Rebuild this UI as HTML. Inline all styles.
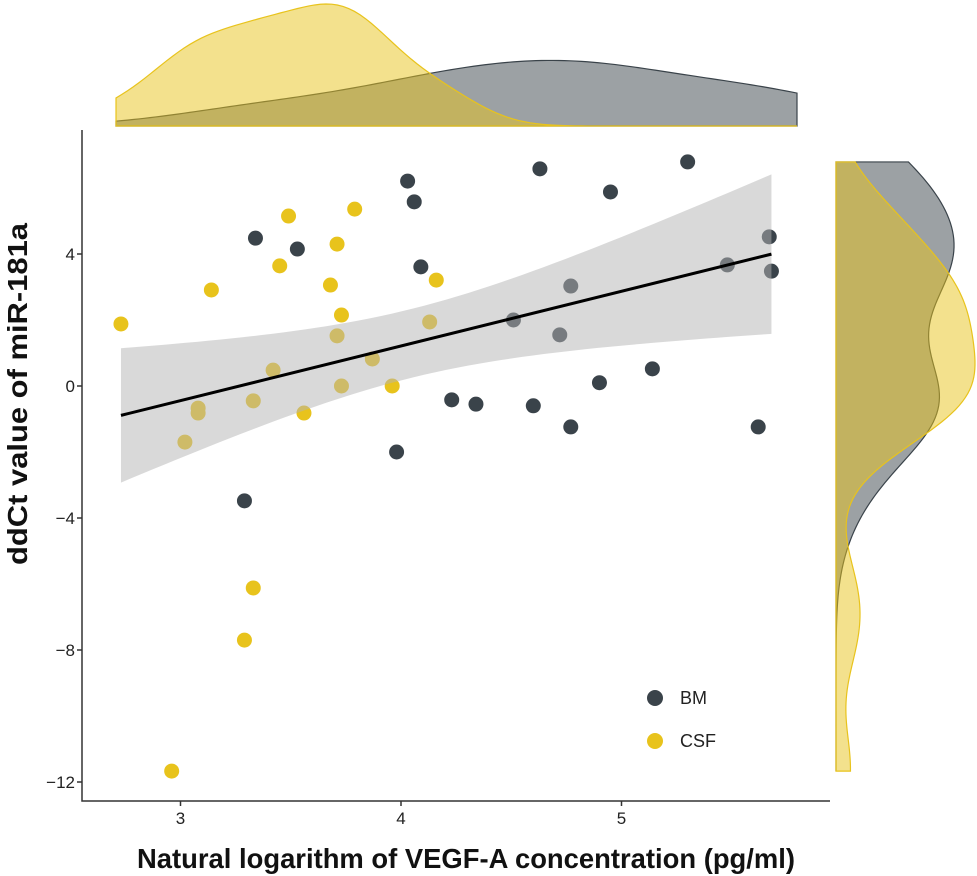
<!DOCTYPE html>
<html><head><meta charset="utf-8"><style>
body{margin:0;background:#fff}
svg{display:block;font-family:"Liberation Sans",Arial,sans-serif}
</style></head><body>
<svg id="c" width="977" height="876" viewBox="0 0 977 876"></svg>
<script>
const bmX=[3.29,3.34,3.53,3.98,4.03,4.06,4.09,4.23,4.34,4.51,4.63,4.72,4.60,4.77,4.77,5.14,4.90,4.95,5.30,5.48,5.67,5.68,5.62];
const bmY=[-3.48,4.48,4.15,-2.0,6.21,5.58,3.61,-0.42,-0.55,2.0,6.58,1.55,-0.6,-1.24,3.03,0.52,0.1,5.88,6.79,3.67,4.52,3.48,-1.24];
const csfX=[2.73,3.14,3.49,3.45,3.79,3.71,3.68,3.73,3.71,3.87,3.73,3.96,4.16,4.13,3.42,3.33,3.08,3.08,3.56,3.02,3.33,3.29,2.96];
const csfY=[1.88,2.91,5.15,3.64,5.36,4.30,3.06,2.15,1.52,0.82,0.0,0.0,3.21,1.94,0.48,-0.45,-0.82,-0.67,-0.82,-1.7,-6.12,-7.7,-11.67];
const xTicks=[3,4,5];
const yTicks=[4,0,-4,-8,-12];
const yTickLabels=["4","0","\u22124","\u22128","\u221212"];
const groups=["BM","CSF"];

const NS="http://www.w3.org/2000/svg";
const svg=document.getElementById('c');
function mk(t,a,p){const e=document.createElementNS(NS,t);for(const k in a)e.setAttribute(k,a[k]);(p||svg).appendChild(e);return e;}
const sx=v=>180.5+(v-3)*220.5;
const sy=v=>386-v*33;
const cBM="#3a434a",cCSF="#e8c31c";

const gp=mk('g',{});


bmX.forEach((x,i)=>{const c=mk('circle',{cx:sx(x),cy:sy(bmY[i]),r:7.5,fill:cBM},gp);

});
csfX.forEach((x,i)=>{const c=mk('circle',{cx:sx(x),cy:sy(csfY[i]),r:7.5,fill:cCSF},gp);

});

const X=bmX.concat(csfX),Y=bmY.concat(csfY),n=X.length;
const mx=X.reduce((a,b)=>a+b)/n,my=Y.reduce((a,b)=>a+b)/n;
let sxx=0,sxy=0;X.forEach((x,i)=>{sxx+=(x-mx)**2;sxy+=(x-mx)*(Y[i]-my);});
const b1=sxy/sxx,b0=my-b1*mx;
let sse=0;X.forEach((x,i)=>{sse+=(Y[i]-b0-b1*x)**2;});
const s=Math.sqrt(sse/(n-2)),tq=2.018;
const xmin=Math.min(...X),xmax=Math.max(...X);
let up=[],lo=[];
for(let k=0;k<=60;k++){const x=xmin+(xmax-xmin)*k/60,f=b0+b1*x,se=s*Math.sqrt(1/n+(x-mx)**2/sxx);
up.push(sx(x)+','+sy(f+tq*se));lo.unshift(sx(x)+','+sy(f-tq*se));}
const rib=mk('polygon',{points:up.concat(lo).join(' '),fill:'#b3b3b3','fill-opacity':0.5});


const ln=mk('line',{x1:sx(xmin),y1:sy(b0+b1*xmin),x2:sx(xmax),y2:sy(b0+b1*xmax),stroke:'#000','stroke-width':3});



const ax=mk('path',{d:'M82,130V801H830',fill:'none',stroke:'#333','stroke-width':1.5});


xTicks.forEach(t=>{mk('line',{x1:sx(t),x2:sx(t),y1:801,y2:806,stroke:'#333','stroke-width':1.5});
const l=mk('text',{x:sx(t),y:824,'text-anchor':'middle','font-size':17,fill:'#222'});l.textContent=t;

});
yTicks.forEach((t,i)=>{mk('line',{x1:77,x2:82,y1:sy(t),y2:sy(t),stroke:'#333','stroke-width':1.5});
const l=mk('text',{x:75,y:sy(t)+6,'text-anchor':'end','font-size':17,fill:'#222'});l.textContent=yTickLabels[i];

});
const xt=mk('text',{x:137,y:868,'font-size':28,'font-weight':'bold',fill:'#111',textLength:658,lengthAdjust:'spacingAndGlyphs'});
xt.textContent='Natural logarithm of VEGF-A concentration (pg/ml)';


const yt=mk('text',{x:0,y:0,transform:'translate(27,565) rotate(-90)','font-size':28,'font-weight':'bold',fill:'#111',textLength:342,lengthAdjust:'spacingAndGlyphs'});
yt.textContent='ddCt value of miR-181a';



[[cBM,698],[cCSF,741]].forEach((d,i)=>{
const g=mk('g',{});


mk('circle',{cx:655,cy:d[1],r:8,fill:d[0]},g);
const t=mk('text',{x:680,y:d[1]+6,'font-size':18,fill:'#222'},g);t.textContent=groups[i];});

function kde(arr,lo,hi,N,adj){const m=arr.reduce((a,b)=>a+b)/arr.length;
const sd=Math.sqrt(arr.reduce((a,b)=>a+(b-m)**2,0)/(arr.length-1));
const q=[...arr].sort((a,b)=>a-b),qq=p=>{const h=(q.length-1)*p,f=Math.floor(h);return q[f]+(q[Math.min(f+1,q.length-1)]-q[f])*(h-f);};
const iqr=(qq(.75)-qq(.25))/1.34,bw=adj*0.9*Math.min(sd,iqr||sd)*Math.pow(arr.length,-0.2);
const out=[];for(let k=0;k<=N;k++){const x=lo+(hi-lo)*k/N;let d=0;arr.forEach(v=>{d+=Math.exp(-0.5*((x-v)/bw)**2);});
out.push([x,d/(arr.length*bw*Math.sqrt(2*Math.PI))]);}return out;}
const dbx=kde(bmX,xmin,xmax,120,1.15),dcx=kde(csfX,xmin,xmax,120,1);
const mxT=Math.max(...dbx.map(p=>p[1]),...dcx.map(p=>p[1]));
const tx=v=>116+(v-xmin)/(xmax-xmin)*681,ty=d=>126-d/mxT*122;
[[dbx,cBM,'top-density-bm'],[dcx,cCSF,'top-density-csf']].forEach(([d,c,nm])=>{
const p=mk('path',{d:'M'+tx(xmin)+',126L'+d.map(q=>tx(q[0])+','+ty(q[1])).join('L')+'L'+tx(xmax)+',126Z',fill:c,'fill-opacity':0.5,stroke:c,'stroke-width':1.2});

});
const ymin=Math.min(...Y),ymax=Math.max(...Y);
const dby=kde(bmY,ymin,ymax,150,1),dcy=kde(csfY,ymin,ymax,150,1);
const mxR=Math.max(...dby.map(p=>p[1]),...dcy.map(p=>p[1]));
const rx=d=>836+d/mxR*139;
[[dby,cBM,'right-density-bm'],[dcy,cCSF,'right-density-csf']].forEach(([d,c,nm])=>{
const p=mk('path',{d:'M836,'+sy(ymin)+'L'+d.map(q=>rx(q[1])+','+sy(q[0])).join('L')+'L836,'+sy(ymax)+'Z',fill:c,'fill-opacity':0.5,stroke:c,'stroke-width':1.2});

});
</script>
</body></html>
